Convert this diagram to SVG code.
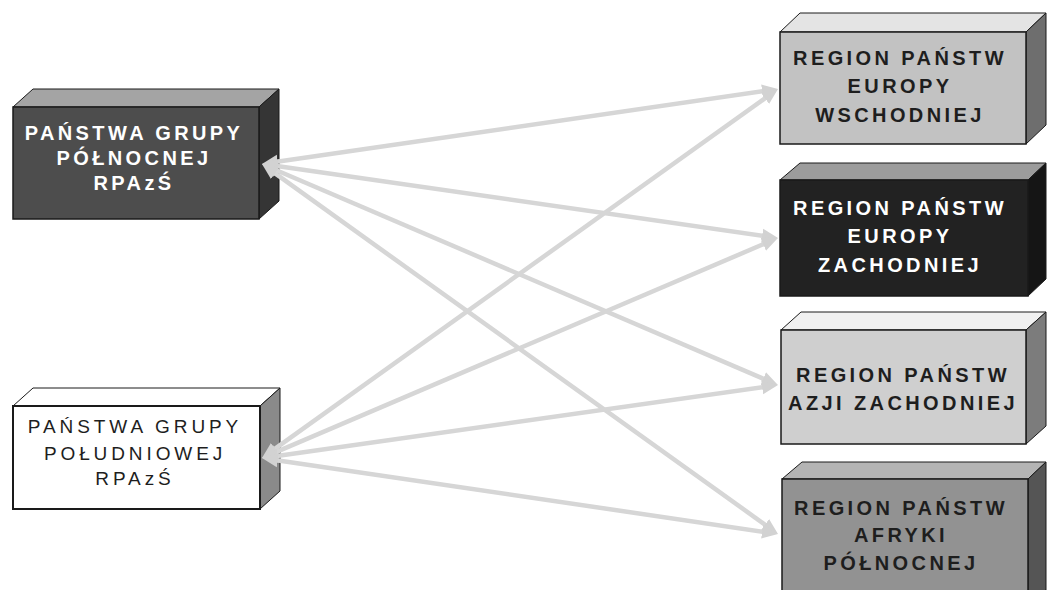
<svg xmlns="http://www.w3.org/2000/svg" width="1048" height="590" viewBox="0 0 1048 590">
<style>
.front{stroke:#1a1a1a;stroke-width:1.5}
.side{stroke:#1a1a1a;stroke-width:1}
.tb{font-family:"Liberation Sans",Arial,sans-serif;font-weight:bold;font-size:20px;letter-spacing:3.4px;text-anchor:middle}
.tr{font-family:"Liberation Sans",Arial,sans-serif;font-weight:normal;font-size:19px;letter-spacing:3.9px;text-anchor:middle}
.w{fill:#ffffff}
.d{fill:#1e1e1e}
.conn{stroke:#d6d6d6;stroke-width:4.5;fill:none;marker-start:url(#ah);marker-end:url(#ah)}
</style>
<defs>
<marker id="ah" markerUnits="userSpaceOnUse" markerWidth="18" markerHeight="16" refX="8" refY="8" orient="auto-start-reverse">
<path d="M0,1 L16,8 L0,15 z" fill="#d2d2d2"/>
</marker>
</defs>
<rect width="1048" height="590" fill="#ffffff"/>

<g id="node-north">
<polygon class="side" points="13,107 33,89 279,89 259,107" fill="#a4a4a4"/>
<polygon class="side" points="259,107 279,89 279,201 259,219" fill="#353535"/>
<rect class="front" x="13" y="107" width="246" height="112" fill="#4d4d4d"/>
<text class="tb w" x="134" y="140">PAŃSTWA GRUPY</text>
<text class="tb w" x="134" y="165">PÓŁNOCNEJ</text>
<text class="tb w" x="134" y="190">RPAzŚ</text>
</g>

<g id="node-south">
<polygon class="side" points="13,406 33,388 280,388 260,406" fill="#ffffff"/>
<polygon class="side" points="260,406 280,388 280,491 260,509" fill="#8a8a8a"/>
<rect class="front" x="13" y="406" width="247" height="103" fill="#ffffff" style="stroke-width:2"/>
<text class="tr d" x="135" y="433">PAŃSTWA GRUPY</text>
<text class="tr d" x="135" y="460">POŁUDNIOWEJ</text>
<text class="tr d" x="135" y="485">RPAzŚ</text>
</g>

<g id="node-east-europe">
<polygon class="side" points="780,32 800,13 1046,13 1026,32" fill="#e4e4e4"/>
<polygon class="side" points="1026,32 1046,13 1046,125 1026,144" fill="#6e6e6e"/>
<rect class="front" x="780" y="32" width="246" height="112" fill="#c2c2c2"/>
<text class="tb d" x="900" y="65">REGION PAŃSTW</text>
<text class="tb d" x="900" y="93">EUROPY</text>
<text class="tb d" x="900" y="122">WSCHODNIEJ</text>
</g>

<g id="node-west-europe">
<polygon class="side" points="780,180 800,163 1046,163 1028,180" fill="#9c9c9c"/>
<polygon class="side" points="1028,180 1046,163 1046,279 1028,296" fill="#151515"/>
<rect class="front" x="780" y="180" width="248" height="116" fill="#222222"/>
<text class="tb w" x="900" y="215">REGION PAŃSTW</text>
<text class="tb w" x="900" y="243">EUROPY</text>
<text class="tb w" x="900" y="272">ZACHODNIEJ</text>
</g>

<g id="node-west-asia">
<polygon class="side" points="781,330 801,312 1046,312 1026,330" fill="#f0f0f0"/>
<polygon class="side" points="1026,330 1046,312 1046,426 1026,444" fill="#7c7c7c"/>
<rect class="front" x="781" y="330" width="245" height="114" fill="#cfcfcf"/>
<text class="tb d" x="903" y="382">REGION PAŃSTW</text>
<text class="tb d" x="903" y="410">AZJI ZACHODNIEJ</text>
</g>

<g id="node-north-africa">
<polygon class="side" points="782,479 802,462 1046,462 1028,479" fill="#b4b4b4"/>
<polygon class="side" points="1028,479 1046,462 1046,590 1028,600" fill="#555555"/>
<rect class="front" x="782" y="479" width="246" height="120" fill="#929292"/>
<text class="tb d" x="901" y="515">REGION PAŃSTW</text>
<text class="tb d" x="901" y="542">AFRYKI</text>
<text class="tb d" x="901" y="570">PÓŁNOCNEJ</text>
</g>

<g id="connectors">
<line class="conn" x1="269.9" y1="162.8" x2="770.1" y2="90.2"/>
<line class="conn" x1="269.9" y1="165.1" x2="770.1" y2="236.9"/>
<line class="conn" x1="269.4" y1="167.2" x2="770.6" y2="381.8"/>
<line class="conn" x1="268.5" y1="168.7" x2="771.5" y2="529.3"/>
<line class="conn" x1="268.5" y1="453.3" x2="771.5" y2="93.7"/>
<line class="conn" x1="269.4" y1="454.9" x2="770.6" y2="241.1"/>
<line class="conn" x1="269.9" y1="456.9" x2="770.1" y2="386.1"/>
<line class="conn" x1="269.9" y1="459.2" x2="770.1" y2="532.8"/>
</g>
</svg>
